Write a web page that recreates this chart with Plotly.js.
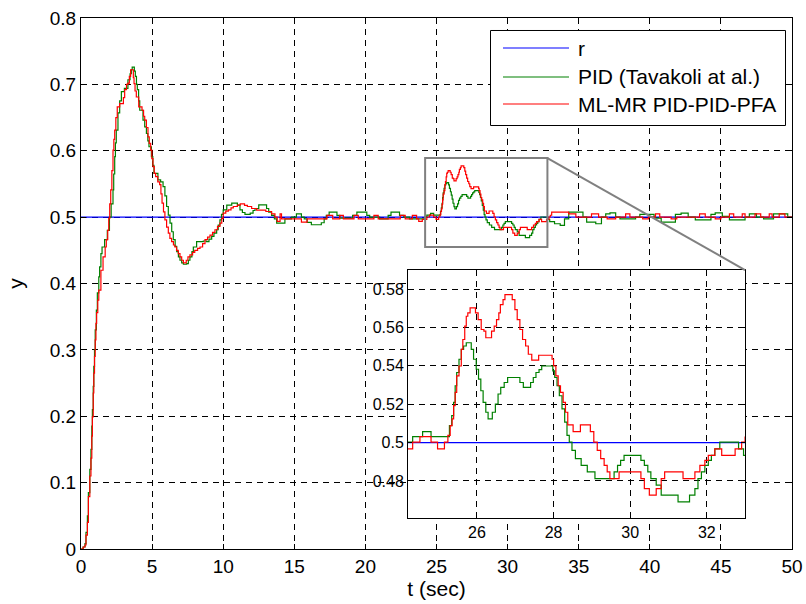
<!DOCTYPE html>
<html>
<head>
<meta charset="utf-8">
<script src="https://cdn.plot.ly/plotly-3.0.1.min.js"></script>
<style>html,body{margin:0;padding:0;background:#fff}#chart{width:806px;height:604px}</style>
</head>
<body>
<div id="chart"></div>
<script>
// reference signal r
var tR = [0, 50];
var yR = [0.5, 0.5];

// PID (Tavakoli at al.) — times where the quantized output changes, and the held values
var tPID = [0,0.15,0.28,0.35,0.45,0.52,0.62,0.70,0.76,0.80,0.86,0.90,0.95,1.00,1.08,1.15,1.25,1.31,1.40,1.48,1.66,1.85,2.00,2.12,2.25,2.30,2.37,2.42,2.48,2.60,2.72,2.84,3.05,3.30,3.45,3.54,3.60,3.75,3.82,3.90,3.96,4.05,4.13,4.36,4.48,4.60,4.70,4.78,4.95,5.05,5.13,5.41,5.60,5.77,5.90,6.02,6.14,6.26,6.38,6.49,6.62,6.73,6.85,6.96,7.08,7.20,7.43,7.55,7.66,7.80,7.90,8.13,8.60,8.83,9.00,9.19,9.35,9.54,9.65,9.77,9.88,10.00,10.25,10.60,11.00,11.18,11.35,11.53,11.90,12.10,12.24,12.50,13.05,13.20,13.40,13.60,13.76,14.34,14.80,15.15,15.50,15.70,15.90,16.20,16.90,17.10,17.25,17.45,18.00,18.20,19.10,19.40,20.10,20.30,21.00,21.60,21.80,22.40,22.70,23.10,24.16,24.32,24.58,24.80,25.28,25.34,25.39,25.43,25.47,25.53,25.59,25.65,25.72,25.85,25.91,25.98,26.04,26.10,26.16,26.23,26.29,26.40,26.48,26.55,26.62,26.71,26.80,27.12,27.21,27.40,27.47,27.54,27.62,27.69,27.98,28.03,28.09,28.15,28.22,28.29,28.35,28.41,28.48,28.57,28.72,28.88,29.08,29.58,29.67,29.75,29.84,30.28,30.37,30.46,30.54,30.68,30.81,31.25,31.55,31.69,31.77,31.86,31.95,32.04,32.12,32.21,32.34,32.83,32.96,33.30,33.70,34.00,34.30,35.30,35.56,36.20,36.60,36.90,37.20,37.60,37.90,39.00,39.30,40.30,40.80,41.80,42.20,42.70,43.20,44.30,44.60,45.10,45.60,46.70,47.00,47.50,48.00,48.70,49.70,50.00];
var yPID = [0,0.003,0.008,0.025,0.05,0.085,0.12,0.15,0.185,0.21,0.245,0.275,0.3,0.33,0.36,0.386,0.41,0.425,0.445,0.455,0.466,0.48,0.50,0.52,0.541,0.565,0.591,0.612,0.631,0.657,0.675,0.689,0.694,0.707,0.716,0.722,0.726,0.72,0.712,0.70,0.692,0.675,0.661,0.646,0.636,0.626,0.615,0.606,0.591,0.578,0.566,0.556,0.553,0.546,0.532,0.516,0.503,0.491,0.478,0.466,0.456,0.448,0.44,0.435,0.431,0.429,0.43,0.435,0.44,0.448,0.455,0.463,0.464,0.463,0.467,0.471,0.476,0.481,0.488,0.496,0.504,0.511,0.518,0.521,0.518,0.511,0.507,0.504,0.506,0.51,0.513,0.5186,0.513,0.5075,0.5025,0.4975,0.491,0.4975,0.5,0.505,0.5,0.4975,0.492,0.4885,0.4915,0.4975,0.5025,0.5075,0.5025,0.4985,0.5025,0.5075,0.5025,0.5,0.4975,0.5025,0.5075,0.5025,0.5,0.4975,0.5002,0.5031,0.5057,0.5031,0.5088,0.514,0.5209,0.5296,0.5365,0.5434,0.5486,0.5503,0.552,0.5486,0.5434,0.5382,0.533,0.527,0.5209,0.5158,0.5123,0.5158,0.5201,0.5253,0.5287,0.5313,0.5339,0.5313,0.5287,0.5313,0.5339,0.5365,0.538,0.5399,0.5373,0.5339,0.5296,0.5244,0.5175,0.5106,0.5037,0.5002,0.4959,0.4916,0.4881,0.4847,0.4812,0.4847,0.4881,0.4907,0.4933,0.4907,0.4881,0.4847,0.4812,0.4778,0.4726,0.4691,0.4726,0.476,0.4812,0.4847,0.4881,0.4907,0.4933,0.4967,0.5002,0.4967,0.4933,0.49,0.4875,0.4975,0.5075,0.5,0.4925,0.49,0.5,0.505,0.5065,0.5,0.4975,0.5,0.504,0.4985,0.4925,0.504,0.506,0.5,0.496,0.504,0.5065,0.501,0.496,0.5,0.505,0.5,0.4975,0.505,0.5,0.5];

// ML-MR PID-PID-PFA
var tML = [0,0.15,0.28,0.35,0.45,0.52,0.62,0.70,0.76,0.80,0.86,0.90,0.95,1.00,1.05,1.10,1.18,1.25,1.40,1.55,1.70,1.78,1.88,1.95,2.02,2.09,2.17,2.25,2.31,2.37,2.45,2.55,2.72,2.98,3.07,3.20,3.30,3.40,3.49,3.68,3.73,3.80,3.89,4.06,4.29,4.40,4.48,4.60,4.71,4.80,4.90,4.98,5.06,5.15,5.25,5.40,5.53,5.62,5.70,5.80,5.90,6.02,6.14,6.25,6.37,6.50,6.60,6.72,6.84,6.96,7.08,7.20,7.40,7.52,7.66,7.85,8.00,8.20,8.37,8.55,8.72,8.90,9.07,9.25,9.42,9.60,9.77,9.90,10.00,10.18,10.36,10.55,10.71,11.00,11.20,11.50,11.70,12.00,12.35,13.00,13.40,13.64,13.80,14.00,14.10,15.50,15.90,17.30,17.70,18.20,18.45,19.20,19.50,20.60,20.90,22.45,22.80,23.30,23.60,23.75,24.00,24.32,24.51,24.80,24.97,25.15,25.24,25.30,25.35,25.39,25.43,25.47,25.53,25.59,25.63,25.68,25.72,25.76,25.82,25.96,26.03,26.11,26.18,26.23,26.38,26.45,26.51,26.57,26.61,26.68,26.73,26.92,26.99,27.05,27.12,27.19,27.27,27.34,27.43,27.61,27.96,28.00,28.06,28.12,28.18,28.25,28.31,28.37,28.51,28.70,28.96,29.05,29.14,29.23,29.32,29.40,29.47,29.71,30.28,30.37,30.50,30.68,30.81,30.90,31.38,31.69,31.82,31.95,32.04,32.21,32.39,32.74,32.91,33.00,33.10,34.30,34.80,35.90,36.40,37.00,37.60,38.30,38.60,39.50,39.90,40.40,40.70,41.50,41.90,43.50,43.90,44.60,45.00,45.60,45.90,46.50,46.70,47.40,47.80,48.40,48.60,49.10,49.50,50.00];
var yML = [0,0.003,0.006,0.021,0.04,0.079,0.11,0.137,0.17,0.199,0.235,0.265,0.29,0.315,0.34,0.356,0.375,0.39,0.42,0.44,0.455,0.466,0.48,0.498,0.52,0.541,0.57,0.601,0.617,0.631,0.65,0.666,0.671,0.68,0.692,0.70,0.702,0.712,0.722,0.71,0.701,0.69,0.681,0.666,0.661,0.652,0.646,0.635,0.621,0.611,0.601,0.588,0.576,0.566,0.561,0.553,0.549,0.535,0.521,0.508,0.496,0.485,0.476,0.468,0.463,0.458,0.455,0.45,0.445,0.44,0.435,0.431,0.435,0.44,0.443,0.447,0.45,0.453,0.455,0.46,0.466,0.47,0.473,0.477,0.481,0.486,0.491,0.498,0.506,0.509,0.511,0.514,0.516,0.518,0.52,0.5176,0.516,0.513,0.5105,0.5085,0.505,0.5,0.4935,0.505,0.4975,0.4925,0.4975,0.5025,0.4975,0.5025,0.4975,0.5025,0.4975,0.5025,0.4975,0.5025,0.4975,0.5025,0.4975,0.4935,0.4967,0.5002,0.5031,0.5002,0.4967,0.5002,0.5037,0.5088,0.5123,0.5192,0.5261,0.5347,0.5399,0.5486,0.5537,0.5607,0.5658,0.5676,0.5702,0.5676,0.5641,0.5589,0.5581,0.5546,0.5581,0.5607,0.5641,0.5676,0.5719,0.5745,0.5771,0.5745,0.5693,0.5641,0.5589,0.5537,0.5503,0.546,0.5429,0.5455,0.5434,0.5399,0.5347,0.5296,0.5261,0.5209,0.5158,0.5092,0.5057,0.5092,0.5057,0.5002,0.4959,0.4916,0.4881,0.4847,0.4812,0.4847,0.4812,0.476,0.4726,0.476,0.4812,0.4847,0.4812,0.4847,0.4881,0.4907,0.4933,0.4967,0.4933,0.4967,0.5002,0.5028,0.5075,0.505,0.5,0.505,0.5,0.4975,0.5,0.505,0.5,0.4975,0.5,0.505,0.5,0.4975,0.5,0.505,0.5,0.4975,0.5,0.505,0.5,0.505,0.5,0.505,0.5,0.505,0.5,0.505,0.5,0.5];

// axes settings
var xMainRange = [0, 50];
var yMainRange = [0, 0.8];
var xInsetRange = [24.2, 33.0];
var yInsetRange = [0.4607, 0.5899];
var insetDomX = [0.46, 0.934];
var insetDomY = [0.0584, 0.5254];
var zoomBoxX = [24.2, 32.8];
var zoomBoxY = [0.455, 0.589];

var names = ['r', 'PID (Tavakoli at al.)', 'ML-MR PID-PID-PFA'];
var colors = ['#0000ff', '#008000', '#ff0000'];

// legend placement (paper coordinates)
var legBoxX = [0.57595, 0.99086];
var legBoxY = [0.79755, 0.97646];
var legLineX = [0.5935, 0.6864];
var legTextX = 0.6962;
var legRowY = [0.9435, 0.8889, 0.838];

var series = [[tR, yR], [tPID, yPID], [tML, yML]];
var traces = [];
series.forEach(function (s, i) {
  traces.push({x: s[0], y: s[1], type: 'scatter', mode: 'lines', name: names[i], showlegend: false,
    line: {color: colors[i], width: 1.2, shape: 'hv'}, xaxis: 'x', yaxis: 'y', hoverinfo: 'skip'});
});
series.forEach(function (s, i) {
  traces.push({x: s[0], y: s[1], type: 'scatter', mode: 'lines', name: names[i], showlegend: false,
    line: {color: colors[i], width: 1.2, shape: 'hv'}, xaxis: 'x2', yaxis: 'y2', hoverinfo: 'skip'});
});

var FONT = 'Arial, "Liberation Sans", Helvetica, sans-serif';
var axBase = {showline: true, linecolor: '#000', linewidth: 1, mirror: 'ticks', ticks: 'inside', ticklen: 5,
  tickcolor: '#000', showgrid: true, gridcolor: '#000', gridwidth: 1, griddash: '6px,5px', zeroline: false,
  fixedrange: true};

var shapes = [
  {type: 'rect', xref: 'x', yref: 'y', x0: zoomBoxX[0], x1: zoomBoxX[1], y0: zoomBoxY[0], y1: zoomBoxY[1],
    line: {color: '#808080', width: 2}, fillcolor: 'rgba(0,0,0,0)', layer: 'above'},
  {type: 'line', xref: 'x', yref: 'y', x0: zoomBoxX[1], y0: zoomBoxY[1],
    x1: xMainRange[0] + insetDomX[1] * (xMainRange[1] - xMainRange[0]),
    y1: yMainRange[0] + insetDomY[1] * (yMainRange[1] - yMainRange[0]),
    line: {color: '#808080', width: 2}, layer: 'above'},
  {type: 'rect', xref: 'paper', yref: 'paper', x0: legBoxX[0], x1: legBoxX[1], y0: legBoxY[0], y1: legBoxY[1],
    line: {color: '#000', width: 1}, fillcolor: '#fff', layer: 'above'}
];
var annotations = [];
names.forEach(function (n, i) {
  shapes.push({type: 'line', xref: 'paper', yref: 'paper', x0: legLineX[0], x1: legLineX[1],
    y0: legRowY[i], y1: legRowY[i], line: {color: colors[i], width: 1.2}, layer: 'above'});
  annotations.push({xref: 'paper', yref: 'paper', x: legTextX, y: legRowY[i], xanchor: 'left', yanchor: 'middle',
    text: n, showarrow: false, font: {family: FONT, size: 21, color: '#000'}});
});

var layout = {
  width: 806, height: 604,
  margin: {l: 81, r: 14, t: 18, b: 55},
  paper_bgcolor: '#fff', plot_bgcolor: '#fff',
  font: {family: FONT, color: '#000', size: 18},
  showlegend: false,
  xaxis: Object.assign({}, axBase, {range: xMainRange, dtick: 5, tick0: 0, domain: [0, 1],
    title: {text: 't (sec)', font: {size: 21}, standoff: 4}, tickfont: {size: 19}}),
  yaxis: Object.assign({}, axBase, {range: yMainRange, dtick: 0.1, tick0: 0, domain: [0, 1],
    title: {text: 'y', font: {size: 21}, standoff: 20}, tickfont: {size: 19}}),
  xaxis2: Object.assign({}, axBase, {range: xInsetRange, dtick: 2, tick0: 0, domain: insetDomX, anchor: 'y2',
    tickfont: {size: 16}, ticklen: 4}),
  yaxis2: Object.assign({}, axBase, {range: yInsetRange, dtick: 0.02, tick0: 0, domain: insetDomY, anchor: 'x2',
    tickfont: {size: 16}, ticklen: 4}),
  shapes: shapes,
  annotations: annotations,
  hovermode: false
};

Plotly.newPlot('chart', traces, layout, {staticPlot: true, displayModeBar: false});
</script>
</body>
</html>
